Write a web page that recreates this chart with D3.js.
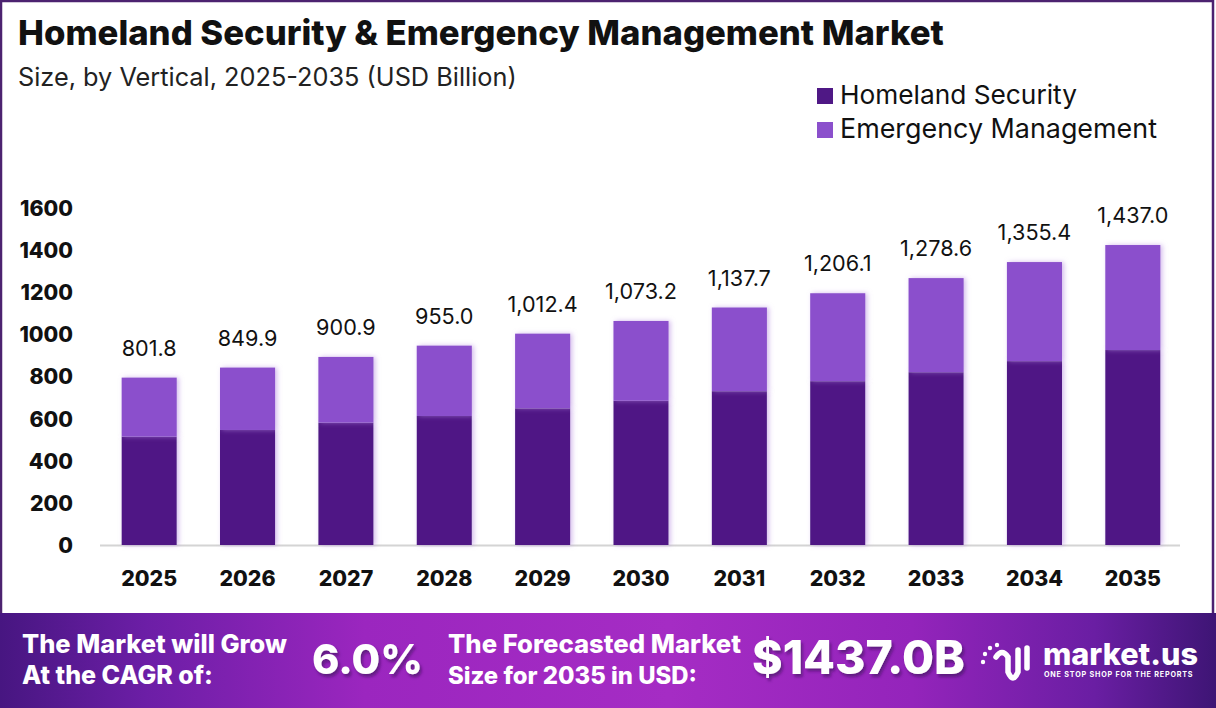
<!DOCTYPE html>
<html><head><meta charset="utf-8">
<script src="https://cdn.jsdelivr.net/npm/d3@7"></script>
<style>
html,body{margin:0;padding:0;background:#fff;}
svg{display:block;}
</style></head>
<body>
<svg id="chart" width="1216" height="708"></svg>
<script>
const years = ["2025","2026","2027","2028","2029","2030","2031","2032","2033","2034","2035"];
const totals = [801.8, 849.9, 900.9, 955.0, 1012.4, 1073.2, 1137.7, 1206.1, 1278.6, 1355.4, 1437.0];
const homeland = [519, 551, 586, 618, 655, 691, 737, 785, 828, 881, 934];
const emergency = totals.map((t,i)=> +(t - homeland[i]).toFixed(1));
const seriesNames = ["Homeland Security","Emergency Management"];
const yTicks = [0,200,400,600,800,1000,1200,1400,1600];
const colors = ["#4f1885","#8b50cc"];

const FONT = "Inter, 'Noto Sans', sans-serif";
const svg = d3.select("#chart");

function fit(sel, w){
  const n = sel.node();
  const cur = n.getComputedTextLength();
  const fs = parseFloat(sel.attr("font-size"));
  sel.attr("font-size", (fs * w / cur).toFixed(2));
  return sel;
}
function fitSize(text, weight, base, w){
  const t = svg.append("text").attr("font-family",FONT).attr("font-weight",weight).attr("font-size",base).text(text);
  const s = base * w / t.node().getComputedTextLength();
  t.remove();
  return s;
}

const defs = svg.append("defs");
const sh = defs.append("filter").attr("id","barShadow").attr("x","-20%").attr("y","-10%").attr("width","140%").attr("height","120%");
sh.append("feDropShadow").attr("dx",2).attr("dy",0).attr("stdDeviation",2.5).attr("flood-color","#b58ae0").attr("flood-opacity",0.6);
const ts = defs.append("filter").attr("id","txtShadow").attr("x","-10%").attr("y","-20%").attr("width","130%").attr("height","150%");
ts.append("feDropShadow").attr("dx",2).attr("dy",3).attr("stdDeviation",1.5).attr("flood-color","#3a0a5a").attr("flood-opacity",0.6);

const grad = defs.append("linearGradient").attr("id","bannerGrad").attr("x1","0").attr("x2","1").attr("y1","0").attr("y2","0");
[[0,"#471681"],[0.12,"#6c1ea6"],[0.3,"#9b26bf"],[0.55,"#a52cc4"],[0.75,"#9424bb"],[0.9,"#6a1ea3"],[1,"#3e1575"]].forEach(([o,c])=>grad.append("stop").attr("offset",o).attr("stop-color",c));

// background + border
svg.append("rect").attr("x",0).attr("y",0).attr("width",1216).attr("height",708).attr("fill","#fff");
svg.append("rect").attr("x",1).attr("y",1).attr("width",1212).attr("height",615).attr("fill","#fff").attr("stroke","#4c2270").attr("stroke-width",2.5);

// titles
fit(svg.append("text").attr("x",18).attr("y",45).attr("font-family",FONT).attr("font-weight",800).attr("font-size",30).attr("fill","#111")
  .text("Homeland Security & Emergency Management Market"), 926);
fit(svg.append("text").attr("x",18).attr("y",86).attr("font-family",FONT).attr("font-weight",400).attr("font-size",22).attr("fill","#222")
  .text("Size, by Vertical, 2025-2035 (USD Billion)"), 499);

// legend
const lg = svg.append("g");
seriesNames.forEach((name,i)=>{
  const y = 96 + i*34;
  lg.append("rect").attr("x",817).attr("y",y-8).attr("width",16).attr("height",16).attr("fill",colors[i]);
  fit(lg.append("text").attr("x",840).attr("y",y+8).attr("font-family",FONT).attr("font-size",23).attr("fill","#111").text(name), i===0?237:317);
});

// scales
const x = d3.scaleBand().domain(years).range([100,1182]).paddingInner(0.44).paddingOuter(0.22);
const y = d3.scaleLinear().domain([0,1600]).range([545,211]);

// y axis labels
const yfs = fitSize("1600",800,20,53);
const ya = svg.append("g").attr("transform","translate(73,0)")
  .call(d3.axisLeft(y).tickValues(yTicks).tickSize(0).tickPadding(0).tickFormat(d3.format("d")));
ya.select(".domain").remove();
ya.selectAll("text").attr("font-family",FONT).attr("font-weight",800).attr("font-size",yfs).attr("fill","#111").attr("dy","0.35em")
  .attr("transform",(d)=>`translate(0,${-d/1600*3})`);

// baseline
svg.append("line").attr("x1",100).attr("x2",1180).attr("y1",y(0)+0.5).attr("y2",y(0)+0.5).attr("stroke","#d4d4d4").attr("stroke-width",2);

// x axis labels
const xfs = fitSize("2025",800,20,56);
const xa = svg.append("g").attr("transform",`translate(0,${y(0)})`).call(d3.axisBottom(x).tickSize(0).tickPadding(26));
xa.select(".domain").remove();
xa.selectAll("text").attr("font-family",FONT).attr("font-weight",800).attr("font-size",xfs).attr("fill","#111");

// stacked bars
const data = years.map((yr,i)=>({year:yr, "Homeland Security":homeland[i], "Emergency Management":emergency[i]}));
const stack = d3.stack().keys(seriesNames)(data);
const bars = svg.append("g");
stack.forEach((s,si)=>{
  bars.append("g").attr("fill",colors[si]).selectAll("rect").data(s).join("rect")
    .attr("x",d=>x(d.data.year)).attr("width",x.bandwidth())
    .attr("y",d=>y(d[1])).attr("height",d=>y(d[0])-y(d[1]))
    .attr("filter","url(#barShadow)");
});

// value labels
const fmt = d3.format(",.1f");
const vfs = fitSize("801.8",400,20,55);
svg.append("g").selectAll("text").data(years).join("text")
  .attr("x",d=>x(d)+x.bandwidth()/2).attr("y",(d,i)=>y(totals[i])-22)
  .attr("text-anchor","middle").attr("font-family",FONT).attr("font-size",vfs).attr("fill","#111")
  .text((d,i)=>fmt(totals[i]));

// banner
svg.append("rect").attr("x",0).attr("y",613).attr("width",1216).attr("height",95).attr("fill","url(#bannerGrad)");
const b = svg.append("g").attr("font-family",FONT).attr("fill","#fff").attr("font-weight",800);
fit(b.append("text").attr("x",22).attr("y",653).attr("font-size",22).text("The Market will Grow"),265);
fit(b.append("text").attr("x",22).attr("y",684).attr("font-size",22).text("At the CAGR of:"),191);
fit(b.append("text").attr("x",312).attr("y",674).attr("font-size",44).attr("filter","url(#txtShadow)").text("6.0%"),111);
fit(b.append("text").attr("x",448).attr("y",653).attr("font-size",22).text("The Forecasted Market"),293);
fit(b.append("text").attr("x",448).attr("y",684).attr("font-size",22).text("Size for 2035 in USD:"),249);
fit(b.append("text").attr("x",752).attr("y",674).attr("font-size",44).attr("filter","url(#txtShadow)").text("$1437.0B"),213);

// logo
const logo = svg.append("g").attr("fill","none").attr("stroke","#fff").attr("stroke-linecap","round");
[[983,662],[985,654],[990,648],[997,645]].forEach(([cx,cy])=>svg.append("circle").attr("cx",cx).attr("cy",cy).attr("r",2.2).attr("fill","#fff"));
logo.append("path").attr("d","M996,657 Q1002,648 1008,657 L1008,672 Q1013,684 1018,672 L1018,650").attr("stroke-width",5.5);
logo.append("path").attr("d","M1027,648 L1027,668").attr("stroke-width",5.5);
fit(b.append("text").attr("x",1043).attr("y",665).attr("font-size",30).text("market.us"),155);
fit(b.append("text").attr("x",1044).attr("y",677).attr("font-size",6).attr("font-weight",700).attr("letter-spacing",0.8).text("ONE STOP SHOP FOR THE REPORTS"),154);
</script>
</body></html>
